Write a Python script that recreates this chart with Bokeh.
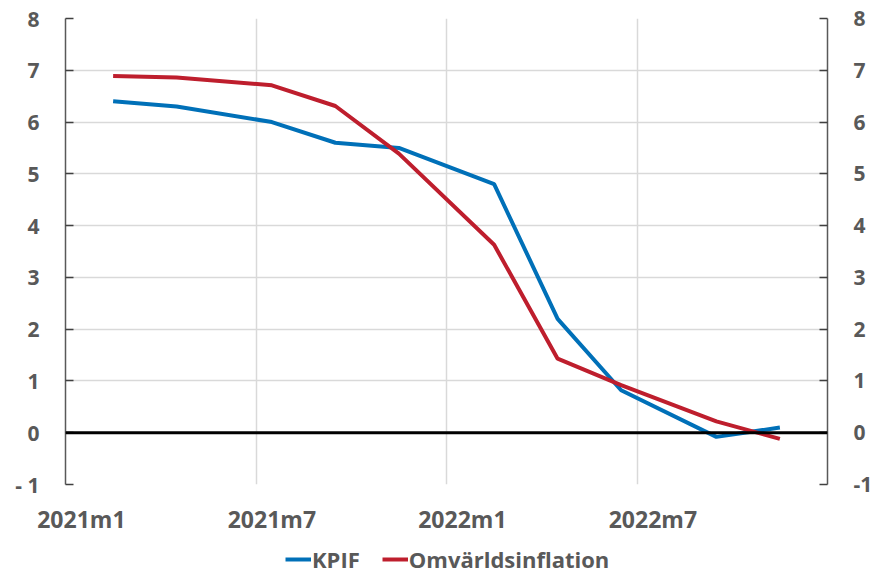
from bokeh.plotting import figure
from bokeh.layouts import column
from bokeh.models import (Range1d, LinearAxis, FixedTicker, Span, Legend, LegendItem)
from bokeh.embed import file_html
from bokeh.resources import INLINE

# ---- data ----
periods = ["2021m2", "2021m4", "2021m7", "2021m9", "2021m11",
           "2022m2", "2022m4", "2022m6", "2022m9", "2022m11"]
kpif = [6.4, 6.3, 6.0, 5.6, 5.5, 4.8, 2.2, 0.82, -0.08, 0.1]
omvarld = [6.89, 6.86, 6.71, 6.31, 5.39, 3.63, 1.43, 0.92, 0.22, -0.12]
x_tick_labels = ["2021m1", "2021m7", "2022m1", "2022m7"]
y_ticks = [-1, 0, 1, 2, 3, 4, 5, 6, 7, 8]
series_names = ["KPIF", "Omvärldsinflation"]
series_colors = ["#0070b8", "#be1e2d"]


def period_pos(s):
    y, m = s.split("m")
    return (int(y) - 2021) * 12 + (int(m) - 1) + 0.5


xs = [period_pos(s) for s in periods]
x_tick_pos = [period_pos(s) for s in x_tick_labels]

FONT = "Open Sans"
TXT = "#595959"

p = figure(frame_width=762, frame_height=466, output_backend="svg",
           toolbar_location=None, x_range=Range1d(0, 24), y_range=Range1d(-1, 8),
           min_border_left=65, min_border_right=48, min_border_top=18,
           min_border_bottom=56, y_axis_location=None)
p.outline_line_color = None
p.background_fill_color = "white"
p.border_fill_color = "white"

# grids
p.xgrid.ticker = FixedTicker(ticks=[6, 12, 18])
p.xgrid.grid_line_color = "#d9d9d9"
p.xgrid.grid_line_width = 1.5
p.ygrid.ticker = FixedTicker(ticks=y_ticks)
p.ygrid.grid_line_color = "#d9d9d9"
p.ygrid.grid_line_width = 1.5

# x axis
xa = p.xaxis[0]
xa.ticker = FixedTicker(ticks=x_tick_pos)
xa.major_label_overrides = {pos: lab for pos, lab in zip(x_tick_pos, x_tick_labels)}
xa.axis_line_color = None
xa.major_tick_line_color = None
xa.minor_tick_line_color = None
xa.major_label_text_font = FONT
xa.major_label_text_font_style = "bold"
xa.major_label_text_font_size = "23px"
xa.major_label_text_color = TXT
xa.major_label_standoff = 12


def make_y_axis(overrides):
    ax = LinearAxis(ticker=FixedTicker(ticks=y_ticks))
    ax.major_label_overrides = overrides
    ax.axis_line_color = TXT
    ax.axis_line_width = 1.5
    ax.major_tick_line_color = "#404040"
    ax.major_tick_line_width = 1.5
    ax.major_tick_in = 8
    ax.major_tick_out = 0
    ax.minor_tick_line_color = None
    ax.major_label_text_font = FONT
    ax.major_label_text_font_style = "bold"
    ax.major_label_text_font_size = "21px"
    ax.major_label_text_color = TXT
    ax.major_label_standoff = 26
    return ax


p.add_layout(make_y_axis({-1: "- 1"}), "left")
p.add_layout(make_y_axis({-1: "-1"}), "right")

# zero line
p.add_layout(Span(location=0, dimension="width", line_color="black", line_width=3))

p.line(xs, kpif, line_color=series_colors[0], line_width=4)
p.line(xs, omvarld, line_color=series_colors[1], line_width=4)

# legend strip below the chart
lg = figure(width=875, height=29, output_backend="svg", toolbar_location=None,
            x_range=Range1d(0, 1), y_range=Range1d(0, 1),
            x_axis_location=None, y_axis_location=None,
            min_border_left=0, min_border_right=0, min_border_top=0, min_border_bottom=0)
lg.outline_line_color = None
lg.grid.grid_line_color = None
items = []
for name, col in zip(series_names, series_colors):
    # off-screen stand-in so the legend can draw its swatch
    r = lg.line([-10, -9], [-10, -10], line_color=col, line_width=4)
    items.append(LegendItem(label=name, renderers=[r]))

legend = Legend(items=items, orientation="horizontal", location=(220, -5),
                label_text_font=FONT, label_text_font_style="bold",
                label_text_font_size="22px", label_text_color=TXT,
                glyph_width=26, label_standoff=1, spacing=22,
                border_line_color=None, background_fill_alpha=0,
                padding=0, margin=0)
lg.add_layout(legend, "center")

layout = column(p, lg, spacing=0)
open("out.html", "w").write(file_html(layout, INLINE))
